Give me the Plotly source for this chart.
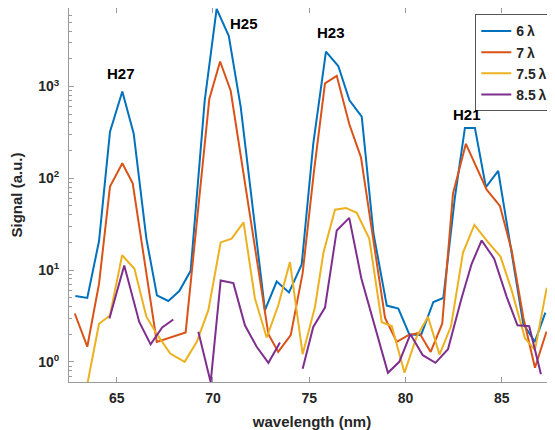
import math
import plotly.graph_objects as go

# ---- data ----
wl_6 = [62.85, 63.47, 64.08, 64.65, 65.29, 65.88, 66.54, 67.09, 67.68, 68.25, 68.84,
        69.57, 70.19, 70.82, 71.44, 72.70, 73.31, 73.95, 74.61, 75.21, 75.87, 76.51,
        77.09, 77.73, 78.34, 79.03, 79.63, 80.20, 80.81, 81.45, 81.97, 82.57, 83.09,
        83.61, 84.18, 84.82, 86.12, 86.72, 87.27]
sig_6 = [5.2, 4.96, 20.7, 322, 883, 308, 22, 5.3, 4.6, 5.9, 9.8,
         700, 7000, 3560, 600, 3.65, 7.5, 5.7, 11.5, 237, 2400, 1670,
         705, 468, 25, 4.1, 3.8, 1.99, 1.95, 4.49, 4.96, 62, 353,
         353, 80, 120, 2.6, 1.65, 3.44]

wl_7 = [62.82, 63.47, 64.08, 64.65, 65.29, 65.83, 67.08, 67.77, 68.58, 69.81, 70.37,
        70.92, 72.88, 73.39, 74.04, 74.66, 75.25, 75.82, 76.43, 77.08, 77.69, 78.94,
        79.55, 80.15, 80.72, 81.31, 81.91, 82.47, 83.14, 84.22, 84.91, 85.52, 86.13,
        86.73, 87.33]
sig_7 = [3.36, 1.46, 7.1, 81, 146, 88, 1.65, 1.84, 2.09, 730, 1870,
         898, 2.0, 1.28, 1.95, 9.3, 120, 1080, 1306, 390, 169, 3.0,
         1.65, 1.95, 2.07, 1.28, 2.6, 68, 237, 75, 50, 16.3, 3.0,
         0.86, 2.14]

wl_75 = [63.47, 64.08, 64.65, 65.28, 65.92, 66.54, 67.12, 67.78, 68.53, 69.16, 69.76,
         70.40, 70.97, 71.59, 72.18, 72.79, 73.39, 74.00, 74.66, 75.30, 75.74, 76.34,
         76.91, 77.47, 78.12, 78.77, 79.29, 79.95, 80.58, 81.17, 81.77, 82.37, 82.99,
         83.58, 84.30, 84.94, 85.52, 86.21, 86.73, 87.34]
sig_75 = [0.57, 2.6, 3.2, 14.5, 10.3, 3.1, 1.95, 1.23, 1.0, 1.65, 3.65,
          20, 22, 33, 4.9, 1.84, 4.1, 12.2, 1.21, 3.96, 15.4, 45.5,
          47.5, 42, 22, 2.7, 2.45, 0.76, 1.87, 3.1, 1.2, 2.45, 15.5,
          31, 20, 14, 6, 1.8, 1.35, 6.4]

wl_85 = [64.62, 65.39, 66.17, 66.76, 67.36, 67.94, None,
         69.24, 69.88, 70.40, 71.06, 71.66, 72.27, 72.88, 73.48, None,
         74.66, 75.21, 75.82, 76.43, 77.08, 77.71, 79.09, 79.68, 80.26, 80.90,
         81.56, 82.21, 82.91, 83.44, 83.96, 84.61, 85.26, 85.82, 86.43, 87.04]
sig_85 = [2.96, 11.2, 2.72, 1.55, 2.37, 2.89, None,
          2.12, 0.6, 7.7, 7.2, 2.5, 1.46, 0.975, 1.62, None,
          0.84, 2.4, 3.9, 27, 37, 8.1, 0.76, 1.0, 2.0, 1.18,
          0.975, 1.37, 4.9, 11.7, 21, 13.3, 5.1, 2.5, 2.44, 0.73]

series_names = ["6\u2009λ", "7\u2009λ", "7.5\u2009λ", "8.5\u2009λ"]
series_colors = ["#0072BD", "#D95319", "#EDB120", "#7E2F8E"]

harmonic_labels = ["H27", "H25", "H23", "H21"]
harmonic_wl = [65.21, 71.63, 76.12, 83.18]
harmonic_sig = [1384, 4840, 3860, 501]

x_ticks = [65, 70, 75, 80, 85]
y_ticks = [1, 10, 100, 1000]
y_ticktext = ["<b>10<sup>0</sup></b>", "<b>10<sup>1</sup></b>",
              "<b>10<sup>2</sup></b>", "<b>10<sup>3</sup></b>"]

# ---- figure ----
AXIS = "#9a9a9a"
TXT = "#262626"
FONT = "Liberation Sans, Arial, sans-serif"

fig = go.Figure()
for name, xs, ys, col in zip(series_names,
                             [wl_6, wl_7, wl_75, wl_85],
                             [sig_6, sig_7, sig_75, sig_85],
                             series_colors):
    fig.add_trace(go.Scatter(x=xs, y=ys, mode="lines", name="<b>" + name + "</b>",
                             line=dict(color=col, width=2), connectgaps=False))

for lab, xv, yv in zip(harmonic_labels, harmonic_wl, harmonic_sig):
    fig.add_annotation(x=xv, y=math.log10(yv), xref="x", yref="y", text="<b>" + lab + "</b>",
                       showarrow=False, font=dict(family=FONT, size=15, color="#000000"))

minor_vals = [m * 10 ** e for e in range(-1, 4) for m in range(2, 10)]

# page body has an 8px margin: figure is sized/placed to compensate
fig.update_layout(
    width=547, height=422,
    margin=dict(l=61, r=0, t=0, b=48, autoexpand=False),
    paper_bgcolor="white", plot_bgcolor="white",
    font=dict(family=FONT, color=TXT),
    showlegend=True,
    legend=dict(x=0.836, y=0.983, xanchor="left", yanchor="top",
                bgcolor="white", bordercolor="#555555", borderwidth=1,
                font=dict(family=FONT, size=14, color=TXT),
                itemwidth=30, tracegroupgap=0),
    xaxis=dict(range=[62.52, 87.77], tickmode="array", tickvals=x_ticks,
               ticktext=["<b>%d</b>" % v for v in x_ticks],
               ticks="inside", ticklen=5, tickcolor=AXIS, showline=True,
               linecolor=AXIS, linewidth=1, mirror="ticks", showgrid=False, zeroline=False,
               ticklabelstandoff=3,
               tickfont=dict(family=FONT, size=14, color=TXT),
               title=dict(text="<b>wavelength (nm)</b>", font=dict(family=FONT, size=15, color=TXT),
                          standoff=11)),
    yaxis=dict(type="log", range=[-0.22, 3.855], tickmode="array", tickvals=y_ticks,
               ticktext=y_ticktext, ticks="inside", ticklen=5, tickcolor=AXIS,
               showline=True, linecolor=AXIS, linewidth=1, mirror="ticks",
               showgrid=False, zeroline=False, ticklabelstandoff=6,
               minor=dict(ticks="inside", ticklen=3, tickcolor=AXIS, tickvals=minor_vals, showgrid=False),
               tickfont=dict(family=FONT, size=14, color=TXT),
               title=dict(text="<b>Signal (a.u.)</b>", font=dict(family=FONT, size=15, color=TXT),
                          standoff=12)),
)

fig.write_html("out.html")
